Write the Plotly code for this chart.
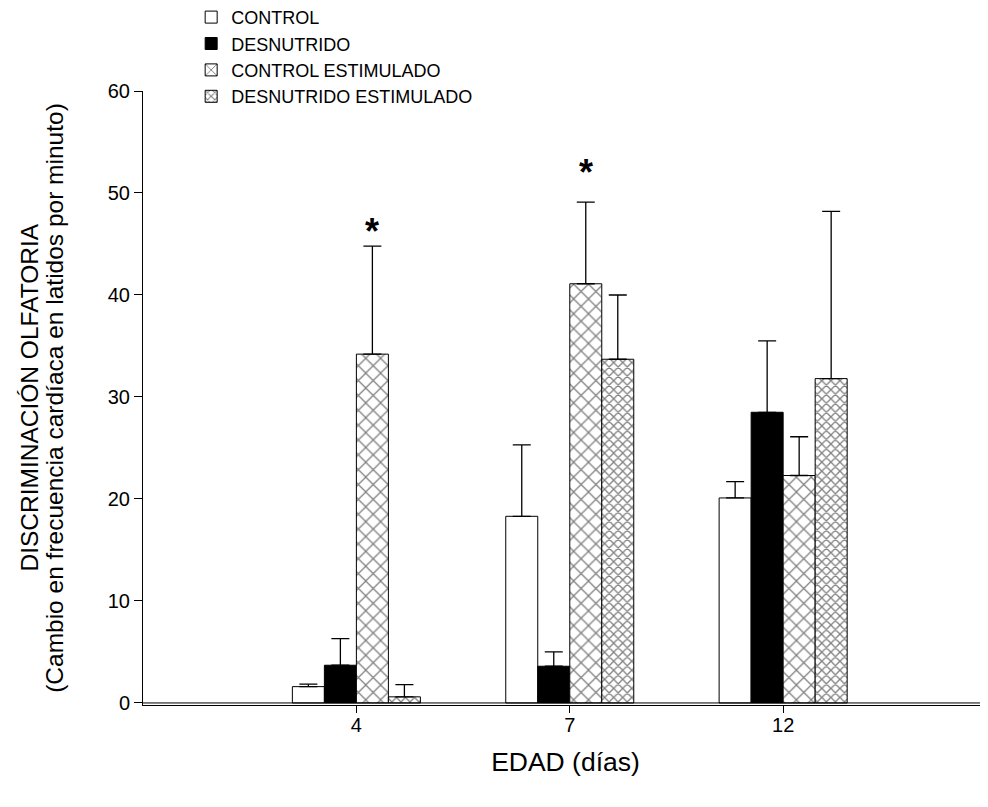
import plotly.graph_objects as go

categories = ["4", "7", "12"]
cat_pos = [1, 2, 3]

series_names = ["CONTROL", "DESNUTRIDO", "CONTROL ESTIMULADO", "DESNUTRIDO ESTIMULADO"]
control = [1.6, 18.3, 20.1]
desnutrido = [3.7, 3.6, 28.5]
control_est = [34.2, 41.1, 22.3]
desnutrido_est = [0.6, 33.7, 31.8]

control_err = [0.25, 7.0, 1.6]
desnutrido_err = [2.6, 1.4, 7.0]
control_est_err = [10.6, 8.0, 3.8]
desnutrido_est_err = [1.2, 6.3, 16.4]

# significance stars: category index, series index, star base level
star_cat = [0, 1]
star_series = [2, 2]
star_level = [44.0, 49.8]

values = [control, desnutrido, control_est, desnutrido_est]
errors = [control_err, desnutrido_err, control_est_err, desnutrido_est_err]

y_title_lines = ["DISCRIMINACIÓN OLFATORIA",
                 "(Cambio en frecuencia cardíaca en latidos por minuto)"]
x_title = "EDAD (días)"

FONT = "Liberation Sans, Arial, sans-serif"

styles = [
    dict(color="white", pattern=None),
    dict(color="black", pattern=None),
    dict(color="white", pattern=dict(shape="x", size=10.5, solidity=0.22, fgcolor="black", bgcolor="white")),
    dict(color="white", pattern=dict(shape="x", size=6.4, solidity=0.36, fgcolor="black", bgcolor="white")),
]

fig = go.Figure()
for i, name in enumerate(series_names):
    marker = dict(color=styles[i]["color"], line=dict(color="black", width=1))
    if styles[i]["pattern"] is not None:
        marker["pattern"] = styles[i]["pattern"]
    fig.add_trace(go.Bar(
        x=cat_pos, y=values[i], name=name, marker=marker,
        legendgroup=name,
        error_y=dict(type="data", symmetric=False, array=errors[i],
                     arrayminus=[0] * len(errors[i]), color="black",
                     thickness=1.3, width=9),
    ))

n = len(series_names)
bar_w = 0.6 / n
for ci, si, lv in zip(star_cat, star_series, star_level):
    xoff = (si - (n - 1) / 2) * bar_w
    fig.add_annotation(x=cat_pos[ci] + xoff, y=lv,
                       text="<b>*</b>", showarrow=False, yanchor="bottom",
                       font=dict(family=FONT, size=36, color="black"))

# two-line y axis title
for k, (line, xp) in enumerate(zip(y_title_lines, [-0.1355, -0.1055])):
    fig.add_annotation(xref="paper", yref="paper", x=xp, y=0.5, text=line,
                       textangle=-90, showarrow=False, xanchor="center", yanchor="middle",
                       font=dict(family=FONT, size=24.5, color="black"))

fig.add_shape(type="line", xref="paper", x0=0, x1=1, yref="y", y0=0, y1=0,
              line=dict(color="black", width=1))

fig.update_layout(
    width=988, height=807,
    margin=dict(l=135, r=8, t=83, b=110, autoexpand=False),
    plot_bgcolor="white", paper_bgcolor="white",
    barmode="group", bargap=0.4, bargroupgap=0,
    font=dict(family=FONT, color="black"),
    legend=dict(x=0.057, y=1.15, xanchor="left", yanchor="top",
                font=dict(family=FONT, size=18, color="black"),
                tracegroupgap=0, bgcolor="rgba(0,0,0,0)", itemwidth=30),
    xaxis=dict(range=[0, 3.96], tickvals=cat_pos, ticktext=categories,
               showline=True, linecolor="black", linewidth=1,
               ticks="outside", ticklen=7, tickcolor="black",
               showgrid=False, zeroline=False, ticklabelstandoff=-5,
               tickfont=dict(family=FONT, size=20),
               title=dict(text=x_title, font=dict(family=FONT, size=26.5), standoff=17)),
    yaxis=dict(range=[-0.2, 60], tickvals=[0, 10, 20, 30, 40, 50, 60],
               showline=True, linecolor="black", linewidth=1,
               ticks="outside", ticklen=8, tickcolor="black",
               showgrid=False, zeroline=False,
               tickfont=dict(family=FONT, size=20)),
)

fig.write_html("out.html")
